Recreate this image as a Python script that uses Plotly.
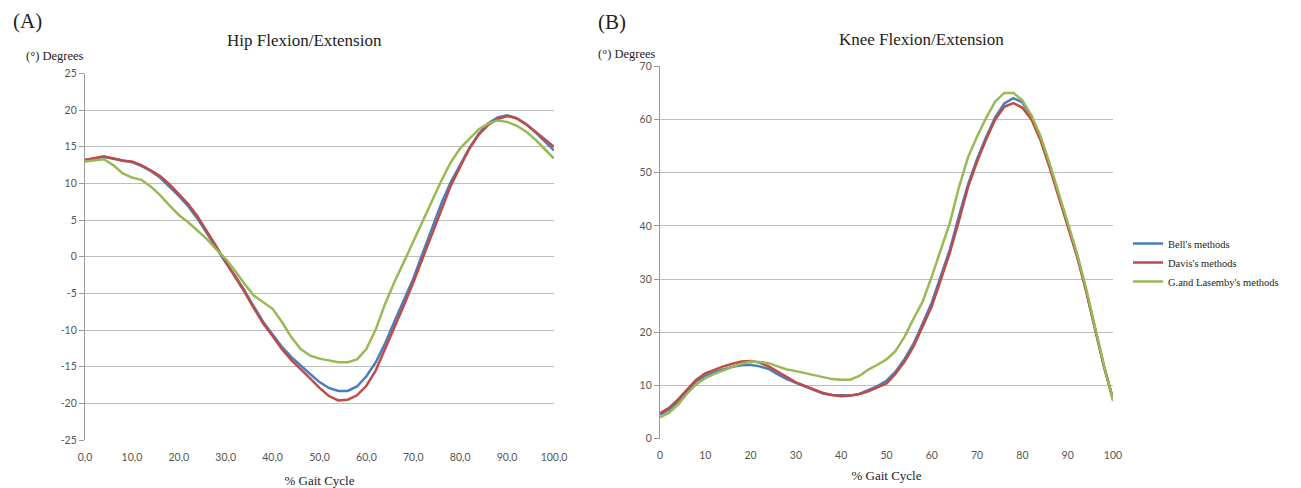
import plotly.graph_objects as go

# ---------------- data ----------------
gait_pct = list(range(0, 101, 2))

hip_bell = [13.2, 13.4, 13.6, 13.4, 13.1, 12.9, 12.4, 11.7, 10.8, 9.6,
            8.3, 6.9, 5.2, 3.2, 1.2, -0.8, -2.6, -4.6, -6.8, -8.9,
            -10.6, -12.3, -13.7, -14.9, -16.0, -17.1, -17.9, -18.3, -18.3, -17.7,
            -16.3, -14.4, -11.8, -8.8, -5.8, -3.0, 0.5, 3.8, 7.3, 10.2,
            12.5, 14.9, 16.8, 18.2, 19.0, 19.3, 18.9, 18.1, 17.0, 15.7, 14.5]
hip_davis = [13.2, 13.5, 13.7, 13.4, 13.1, 13.0, 12.5, 11.8, 11.0, 9.9,
             8.6, 7.2, 5.5, 3.5, 1.4, -0.7, -2.7, -4.8, -7.0, -9.1,
             -10.8, -12.6, -14.1, -15.3, -16.6, -17.9, -19.0, -19.6, -19.5, -18.9,
             -17.6, -15.5, -12.6, -9.7, -6.6, -3.5, -0.2, 3.1, 6.6, 9.7,
             12.3, 14.8, 16.7, 18.0, 18.8, 19.2, 18.9, 18.1, 17.1, 16.0, 15.0]
hip_gl = [13.0, 13.1, 13.3, 12.5, 11.4, 10.8, 10.5, 9.6, 8.4, 7.0,
          5.7, 4.7, 3.5, 2.4, 1.0, -0.3, -1.9, -3.7, -5.3, -6.2,
          -7.1, -8.9, -11.0, -12.6, -13.5, -13.9, -14.2, -14.4, -14.4, -14.0,
          -12.6, -9.9, -6.4, -3.4, -0.7, 2.1, 4.8, 7.8, 10.4, 12.9,
          14.8, 16.1, 17.4, 18.2, 18.6, 18.4, 17.9, 17.1, 16.0, 14.7, 13.4]

knee_bell = [4.5, 5.5, 7.0, 9.0, 10.8, 11.8, 12.5, 13.0, 13.5, 13.8,
             13.9, 13.6, 13.1, 12.1, 11.2, 10.5, 9.8, 9.1, 8.5, 8.2,
             8.1, 8.1, 8.4, 9.2, 9.9, 10.9, 12.6, 15.0, 17.9, 21.7,
             25.6, 30.6, 35.6, 41.9, 47.8, 52.6, 56.7, 60.4, 63.0, 64.0,
             63.2, 60.6, 56.4, 51.4, 46.0, 40.5, 34.8, 28.0, 20.7, 13.6, 7.4]
knee_davis = [4.8, 5.8, 7.4, 9.3, 11.1, 12.3, 13.0, 13.6, 14.1, 14.5,
              14.6, 14.3, 13.6, 12.6, 11.5, 10.6, 9.9, 9.2, 8.6, 8.2,
              8.0, 8.1, 8.4, 8.9, 9.6, 10.4, 12.2, 14.5, 17.4, 21.0,
              24.9, 29.9, 35.0, 41.0, 47.3, 52.1, 56.3, 60.0, 62.4, 63.1,
              62.2, 60.0, 56.1, 51.0, 45.6, 40.1, 34.4, 28.0, 20.7, 13.6, 7.4]
knee_gl = [4.0, 4.9, 6.4, 8.5, 10.2, 11.4, 12.2, 12.9, 13.5, 14.1,
           14.5, 14.4, 14.2, 13.6, 13.0, 12.7, 12.3, 11.9, 11.5, 11.2,
           11.1, 11.1, 11.8, 13.0, 13.9, 14.9, 16.5, 19.2, 22.6, 25.8,
           30.5, 35.6, 40.6, 47.3, 52.9, 56.8, 60.3, 63.4, 65.0, 65.0,
           63.6, 60.8, 56.9, 51.8, 46.2, 40.8, 35.0, 28.5, 21.0, 13.8, 7.1]

series_names = ["Bell's methods", "Davis's methods", "G.and Lasemby's methods"]
series_colors = ["#4A7EBB", "#BE4B48", "#98B954"]

hip_x_ticks = [0, 10, 20, 30, 40, 50, 60, 70, 80, 90, 100]
hip_x_ticklabels = ["0,0", "10,0", "20,0", "30,0", "40,0", "50,0",
                    "60,0", "70,0", "80,0", "90,0", "100,0"]
hip_y_ticks = [-25, -20, -15, -10, -5, 0, 5, 10, 15, 20, 25]
hip_y_ticklabels = ["-25", "-20", "-15", "-10", "-5", "0", "5", "10", "15", "20", "25"]
knee_x_ticks = [0, 10, 20, 30, 40, 50, 60, 70, 80, 90, 100]
knee_x_ticklabels = ["0", "10", "20", "30", "40", "50", "60", "70", "80", "90", "100"]
knee_y_ticks = [0, 10, 20, 30, 40, 50, 60, 70]
knee_y_ticklabels = ["0", "10", "20", "30", "40", "50", "60", "70"]

# ---------------- figure ----------------
# the page has an 8px body margin, so the figure is sized/positioned to
# land on the 1301x488 window exactly
OFF = 8
W, H = 1301 - OFF, 488 - OFF


def px(x):
    return (x - OFF) / W


def py(y):
    return 1 - (y - OFF) / H


SERIF = "Liberation Serif, Times New Roman, serif"
SANS = "Lato, Open Sans, sans-serif"
GRID = "#BDBDBD"
AXIS = "#9A9A9A"
TICKFONT = dict(family=SANS, size=10.5, color="#555555")
TXT = "#222222"

fig = go.Figure()
hip_sets = [hip_bell, hip_davis, hip_gl]
knee_sets = [knee_bell, knee_davis, knee_gl]
for name, col, ys in zip(series_names, series_colors, hip_sets):
    fig.add_trace(go.Scatter(x=gait_pct, y=ys, mode="lines", name=name,
                             line=dict(color=col, width=2.5),
                             xaxis="x", yaxis="y", showlegend=False))
for name, col, ys in zip(series_names, series_colors, knee_sets):
    fig.add_trace(go.Scatter(x=gait_pct, y=ys, mode="lines", name=name,
                             line=dict(color=col, width=2.5),
                             xaxis="x2", yaxis="y2", showlegend=True))

L_x = [px(85), px(554)]
L_y = [py(440), py(73.5)]
R_x = [px(660), px(1113)]
R_y = [py(438.7), py(66.3)]
zero_pos = L_y[0] + (0 - (-25)) / 50 * (L_y[1] - L_y[0])

fig.update_layout(
    width=W, height=H,
    margin=dict(l=0, r=0, t=0, b=0, autoexpand=False),
    paper_bgcolor="white", plot_bgcolor="white",
    font=dict(family=SERIF, color=TXT),
    xaxis=dict(domain=L_x, range=[0, 100], anchor="y", automargin=False,
               tickmode="array", tickvals=hip_x_ticks, ticktext=hip_x_ticklabels,
               showgrid=False, zeroline=False, showline=False, ticks="",
               tickfont=TICKFONT, ticklabelstandoff=9,
               title=dict(text="% Gait Cycle", font=dict(family=SERIF, size=13, color=TXT),
                          standoff=14)),
    yaxis=dict(domain=L_y, range=[-25, 25], anchor="x", automargin=False,
               tickmode="array", tickvals=hip_y_ticks, ticktext=hip_y_ticklabels,
               showgrid=True, gridcolor=GRID, gridwidth=1.3, zeroline=False,
               showline=True, linecolor=AXIS, linewidth=1.3,
               ticks="outside", ticklen=5, tickcolor=AXIS, tickfont=TICKFONT),
    xaxis3=dict(overlaying="x", anchor="free", position=zero_pos, range=[0, 100],
                automargin=False,
                tickmode="linear", tick0=0, dtick=100 / 12,
                showgrid=False, zeroline=False, showline=True, linecolor=AXIS, linewidth=1.3,
                ticks="outside", ticklen=4, tickcolor=AXIS, showticklabels=False),
    xaxis2=dict(domain=R_x, range=[0, 100], anchor="y2", automargin=False,
                tickmode="array", tickvals=knee_x_ticks, ticktext=knee_x_ticklabels,
                showgrid=False, zeroline=False, showline=False, ticks="",
                tickfont=TICKFONT, ticklabelstandoff=9,
                title=dict(text="% Gait Cycle", font=dict(family=SERIF, size=13, color=TXT),
                           standoff=10)),
    xaxis4=dict(overlaying="x2", anchor="y2", range=[0, 100], automargin=False,
                tickmode="linear", tick0=0, dtick=100 / 12,
                showgrid=False, zeroline=False, showline=True, linecolor=AXIS, linewidth=1.3,
                ticks="outside", ticklen=4, tickcolor=AXIS, showticklabels=False),
    yaxis2=dict(domain=R_y, range=[0, 70], anchor="x2", automargin=False,
                tickmode="array", tickvals=knee_y_ticks, ticktext=knee_y_ticklabels,
                showgrid=True, gridcolor=GRID, gridwidth=1.3, zeroline=False,
                showline=True, linecolor=AXIS, linewidth=1.3,
                ticks="outside", ticklen=5, tickcolor=AXIS, tickfont=TICKFONT),
    legend=dict(x=px(1128), y=py(229), xanchor="left", yanchor="top",
                font=dict(family=SERIF, size=10.5, color=TXT),
                bgcolor="rgba(0,0,0,0)", itemwidth=30, tracegroupgap=0),
    showlegend=True,
)

annos = [
    dict(text="(A)", x=px(11), y=py(21), xanchor="left", yanchor="middle",
         font=dict(family=SERIF, size=21, color=TXT)),
    dict(text="(B)", x=px(596), y=py(22), xanchor="left", yanchor="middle",
         font=dict(family=SERIF, size=21, color=TXT)),
    dict(text="Hip Flexion/Extension", x=px(304), y=py(41), xanchor="center", yanchor="middle",
         font=dict(family=SERIF, size=17, color=TXT)),
    dict(text="Knee Flexion/Extension", x=px(921), y=py(40), xanchor="center", yanchor="middle",
         font=dict(family=SERIF, size=17, color=TXT)),
    dict(text="(°) Degrees", x=px(24), y=py(56), xanchor="left", yanchor="middle",
         font=dict(family=SERIF, size=12.5, color=TXT)),
    dict(text="(°) Degrees", x=px(596), y=py(54), xanchor="left", yanchor="middle",
         font=dict(family=SERIF, size=12.5, color=TXT)),
]
for a in annos:
    fig.add_annotation(xref="paper", yref="paper", showarrow=False, **a)

fig.write_html("out.html")
